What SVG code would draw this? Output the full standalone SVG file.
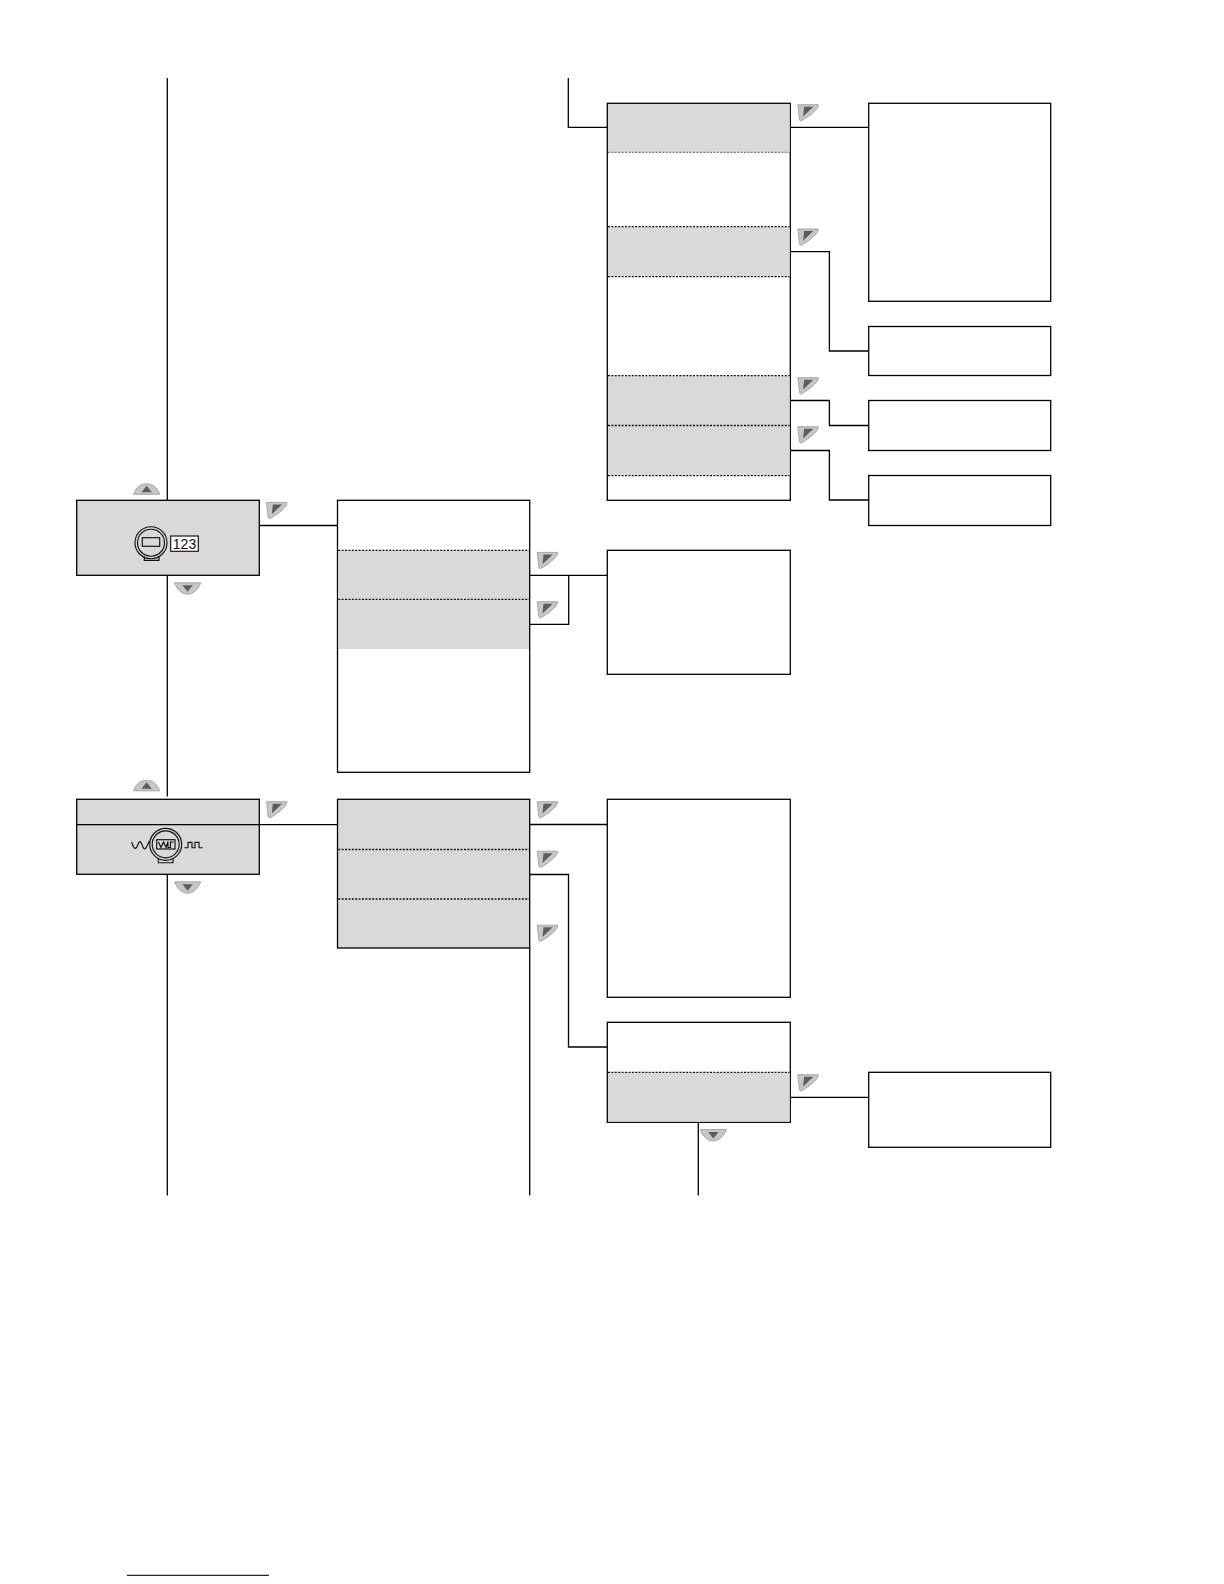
<svg xmlns="http://www.w3.org/2000/svg" width="1224" height="1584" viewBox="0 0 1224 1584">
<style>
.b{fill:#fff;stroke:#000;stroke-width:1.3}
.g{fill:#d9d9d9;stroke:none}
.f{fill:none;stroke:#000;stroke-width:1.3}
.d{fill:none;stroke:#111;stroke-width:1.3;stroke-dasharray:2 1.4}
.l{fill:none;stroke:#777;stroke-width:1.2;stroke-dasharray:2 1.4}
.i{fill:none;stroke:#111;stroke-width:1.15}
.bt{fill:#c6c6c6;stroke:#a0a0a0;stroke-width:.9}
.tr{fill:#5c5c5c}
</style>
<defs>
<g id="press"><path class="bt" d="M.5 .7H21C21 3 19.500 5 17 7.500C13 11.500 8 14.800 4 16.800C2.500 17.300 2 16 2 14Z"/><path class="tr" d="M6.800 2.700H16L5.800 12.500Z"/></g>
<g id="up"><path class="bt" d="M.3 10.800C3 3 8 .3 13.300 .3C18.500 .3 23.500 3 26.400 10.800Z"/><path class="tr" d="M13.300 2.200L18.500 8.800H8.200Z"/></g>
<g id="down"><path class="bt" d="M.3 .3C3 8 8 11.700 13.300 11.700C18.500 11.700 23.500 8 26.400 .3Z"/><path class="tr" d="M8.200 2.800H18.500L13.300 9.300Z"/></g>
</defs>
<g id="connectors">
<path class="f" d="M167.300 78V500.300M167.300 575.300V796.500M167.300 874.300V1195.500"/>
<path class="f" d="M568.300 78V127.300H607.300M790.300 127.300H868.700M790.300 251.700H829.400V351H868.700M790.300 400.500H829.400V425.500H868.700M790.300 450.500H829.400V500H868.700"/>
<path class="f" d="M259.300 525.500H337.500M529.700 575.300H607.300M529.700 624.300H568.700V575.300"/>
<path class="f" d="M259.300 824.700H337.500M529.700 824.500H607.300M529.700 874.500H568.500V1047H607.300M790.300 1097.300H868.700M698.300 1122.300V1195.500M529.700 948V1195.500"/>
</g>
<g id="node-a"><rect class="b" x="607.300" y="103.300" width="183" height="397"/>
<rect class="g" x="608" y="104" width="181.600" height="48.300"/><rect class="g" x="608" y="226.700" width="181.600" height="50"/><rect class="g" x="608" y="375.700" width="181.600" height="100"/>
<path class="l" d="M608 152.300H789.600"/><path class="d" d="M608 226.700H789.600M608 276.700H789.600M608 375.700H789.600M608 425.500H789.600M608 475.700H789.600"/></g>
<g id="node-b"><rect class="b" x="868.700" y="103.300" width="182" height="198"/></g>
<g id="node-c"><rect class="b" x="868.700" y="326.500" width="182" height="49"/></g>
<g id="node-d"><rect class="b" x="868.700" y="400.500" width="182" height="50"/></g>
<g id="node-e"><rect class="b" x="868.700" y="475.500" width="182" height="50"/></g>
<g id="node-f"><rect class="b" x="337.500" y="500.300" width="192.200" height="272"/>
<rect class="g" x="338.200" y="550.300" width="190.800" height="98.700"/><path class="d" d="M338.200 550.300H529M338.200 599.300H529"/></g>
<g id="node-g"><rect class="b" x="607.300" y="550.300" width="183" height="124"/></g>
<g id="node-display"><rect x="76.700" y="500.300" width="182.600" height="75" fill="#d9d9d9" stroke="#000" stroke-width="1.300"/>
<circle class="i" cx="151" cy="542.700" r="16"/><circle class="i" cx="151" cy="542.700" r="13.500"/><rect class="i" x="142.300" y="537.700" width="17.400" height="8.600"/><path class="i" d="M144.300 556.200V560.300H159V556.200"/>
<rect x="170.700" y="536" width="27.600" height="15.300" fill="#fff" stroke="#111" stroke-width="1.150"/>
<text x="184.500" y="548.700" text-anchor="middle" font-family="'Liberation Sans',Arial,sans-serif" font-size="14" fill="#111">123</text></g>
<g id="node-signal"><rect x="76.700" y="799.300" width="182.600" height="75" fill="#d9d9d9" stroke="#000" stroke-width="1.300"/>
<path class="f" d="M76.700 824.700H259.300"/>
<circle class="i" cx="165.700" cy="844.300" r="16"/><circle class="i" cx="165.700" cy="844.300" r="13.500"/><rect class="i" x="156.700" y="839.700" width="18.300" height="9.300"/>
<path class="i" d="M158.500 842L161 847.500L163.500 842L166 847.500L168 841.500V847.500H170.500V842H173.500"/><path class="i" d="M158.300 858.300V862.700H173V858.300"/>
<path class="i" d="M131.700 842C134 850 136 850 138 844.500S141 842 143 847S147 846 149.300 841"/>
<path class="i" d="M184.300 847.700H188V842.300H192V847.700H195V842.300H199V847.700H202.700"/></g>
<g id="node-i"><rect x="337.500" y="799.300" width="192.200" height="148.700" fill="#d9d9d9" stroke="#000" stroke-width="1.300"/><path class="d" d="M338.200 849.500H529M338.200 899H529"/></g>
<g id="node-j"><rect class="b" x="607.300" y="799.300" width="183" height="198"/></g>
<g id="node-k"><rect class="b" x="607.300" y="1022.300" width="183" height="100"/><rect class="g" x="608" y="1072.300" width="181.600" height="49.300"/><path class="d" d="M608 1072.300H789.600"/></g>
<g id="node-l"><rect class="b" x="868.700" y="1072.300" width="182" height="75"/></g>
<g id="buttons">
<use href="#up" x="133.300" y="483.500"/><use href="#down" x="174.300" y="582.500"/><use href="#up" x="133.300" y="780"/><use href="#down" x="174.300" y="881.500"/><use href="#down" x="700" y="1129.200"/>
<use href="#press" x="266" y="501.700"/><use href="#press" x="266" y="801"/>
<use href="#press" x="536.700" y="551.700"/><use href="#press" x="536.700" y="601"/><use href="#press" x="536.700" y="801"/><use href="#press" x="536.700" y="850.500"/><use href="#press" x="536.700" y="924.500"/>
<use href="#press" x="797.300" y="104"/><use href="#press" x="797.300" y="228.300"/><use href="#press" x="797.300" y="377"/><use href="#press" x="797.300" y="426"/><use href="#press" x="797.300" y="1074"/>
</g>
<path id="rule" d="M127 1575.300H269" fill="none" stroke="#0b1f8f" stroke-width="1.300"/>
</svg>
